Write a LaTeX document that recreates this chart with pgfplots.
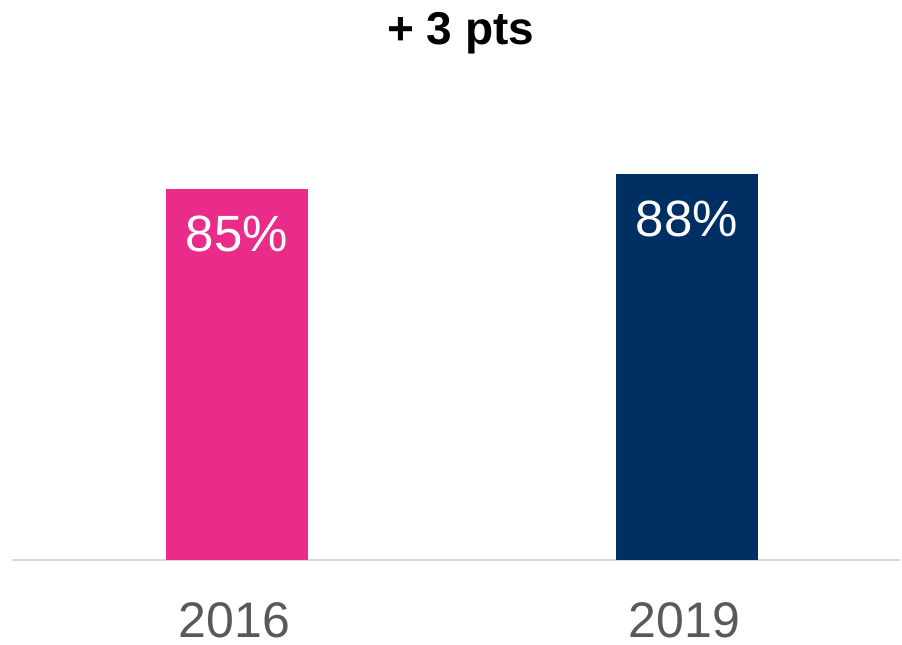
\documentclass[border=0pt]{standalone}
\usepackage{pgfplots}
\pgfplotsset{compat=1.18}
\usepackage{fontspec}
\setmainfont{Liberation Sans}
\definecolor{pinkbar}{HTML}{E92C8A}
\definecolor{navybar}{HTML}{003063}
\definecolor{lab}{HTML}{595959}
\definecolor{base}{HTML}{D9D9D9}
\begin{document}
\begin{tikzpicture}
\path[use as bounding box] (0pt,0pt) rectangle (676.5pt,483.75pt);
\begin{axis}[
  at={(9pt,63.375pt)}, anchor=south west, scale only axis,
  width=666pt, height=328.5pt,
  xmin=-0.5, xmax=1.4733, ymin=0, ymax=100,
  axis x line=bottom, axis y line=none,
  axis line style={-, base, line width=1.5pt},
  xtick={0,1}, xticklabels={2016,2019}, ytick=\empty,
  major tick length=0pt,
  xticklabel style={font=\fontsize{37.5}{40}\selectfont, text=lab, anchor=north, inner sep=0pt, yshift=-31.2pt, xshift=-2pt},
  ybar, bar width=106.5pt, bar shift=0pt,
  clip=false,
  point meta=explicit symbolic,
  nodes near coords,
  every node near coord/.append style={anchor=north, text=white, inner sep=0pt, yshift=-20pt, font=\fontsize{38.25}{40}\selectfont},
]
\addplot[fill=pinkbar, draw=none] coordinates {(0,84.8) [85\%]};
\addplot[fill=navybar, draw=none] coordinates {(1,88.2) [88\%]};
\end{axis}
\node[anchor=base, inner sep=0pt, font=\bfseries\fontsize{34.5}{36}\selectfont] at (345.4pt,450pt) {+ 3 pts};
\end{tikzpicture}
\end{document}
